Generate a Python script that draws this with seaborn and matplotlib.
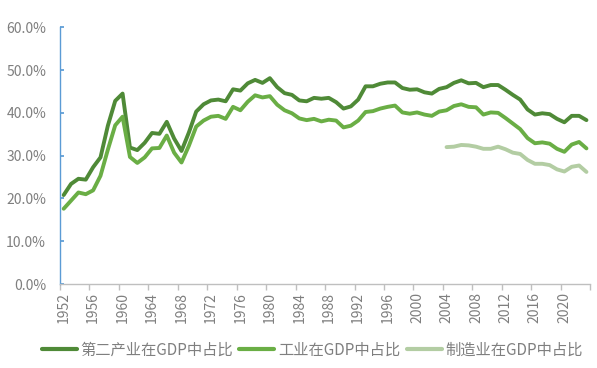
"""
中国第二产业 / 工业 / 制造业在GDP中占比 折线图
"""

import numpy as np
import pandas as pd
import matplotlib
matplotlib.use("Agg")
import matplotlib.pyplot as plt
import seaborn as sns
from matplotlib.ticker import FuncFormatter, FixedLocator

years = list(range(1952, 2024))

# 第二产业在GDP中占比 (%)
secondary = [20.8, 23.4, 24.6, 24.4, 27.3, 29.6, 37.0, 42.8, 44.5, 31.9,
             31.3, 33.0, 35.3, 35.1, 37.9, 34.0, 31.1, 35.4, 40.3, 42.0,
             42.9, 43.1, 42.7, 45.5, 45.2, 46.9, 47.7, 47.0, 48.1, 46.0,
             44.6, 44.2, 42.9, 42.7, 43.5, 43.3, 43.5, 42.5, 41.0, 41.5,
             43.1, 46.2, 46.2, 46.8, 47.1, 47.1, 45.8, 45.4, 45.5, 44.8,
             44.5, 45.6, 46.0, 47.0, 47.6, 46.9, 47.0, 46.0, 46.5, 46.5,
             45.4, 44.2, 43.1, 40.8, 39.6, 39.9, 39.7, 38.6, 37.8, 39.3,
             39.3, 38.3]

# 工业在GDP中占比 (%)
industry = [17.6, 19.5, 21.4, 21.0, 21.9, 25.3, 31.4, 37.1, 39.1, 29.7,
            28.3, 29.6, 31.7, 31.8, 34.7, 30.7, 28.4, 32.3, 36.8, 38.2,
            39.1, 39.3, 38.6, 41.4, 40.6, 42.6, 44.1, 43.6, 43.9, 41.9,
            40.6, 39.9, 38.7, 38.3, 38.6, 38.0, 38.4, 38.2, 36.6, 37.0,
            38.2, 40.2, 40.4, 41.0, 41.4, 41.7, 40.1, 39.8, 40.1, 39.6,
            39.3, 40.3, 40.6, 41.6, 42.0, 41.4, 41.3, 39.6, 40.1, 40.0,
            38.8, 37.5, 36.2, 34.1, 32.9, 33.1, 32.8, 31.6, 30.9, 32.6,
            33.2, 31.7]

# 制造业在GDP中占比 (%), 2004年起
manufacturing = [np.nan] * 52 + [
    32.0, 32.1, 32.5, 32.4, 32.1, 31.6, 31.6, 32.1, 31.5, 30.7,
    30.4, 29.0, 28.1, 28.1, 27.8, 26.8, 26.3, 27.4, 27.7, 26.2]

labels = ["第二产业在GDP中占比", "工业在GDP中占比", "制造业在GDP中占比"]
colors = ["#4F8A37", "#6AAE45", "#B3CDA3"]

df = pd.DataFrame({"年份": years, labels[0]: secondary,
                   labels[1]: industry, labels[2]: manufacturing})
long_df = df.melt(id_vars="年份", var_name="指标", value_name="占比").dropna()
long_df["占比"] = long_df["占比"] / 100

sns.set_theme(style="white")
plt.rcParams["font.family"] = ["Noto Sans CJK SC", "DejaVu Sans"]

fig = plt.figure(figsize=(5.97, 3.68), dpi=100)
ax = fig.add_axes([0.1005, 0.228, 0.888, 0.698])

sns.lineplot(data=long_df, x="年份", y="占比", hue="指标",
             hue_order=labels, palette=colors, linewidth=2.8,
             ax=ax, legend=False)

ax.set_xlim(1951.5, 2023.5)
ax.set_ylim(0, 0.6)
ax.set_yticks(np.arange(0, 0.61, 0.1))
ax.yaxis.set_major_formatter(FuncFormatter(lambda v, _: f"{v * 100:.1f}%"))

ax.xaxis.set_major_locator(FixedLocator(list(range(1952, 2021, 4))))
ax.set_xticklabels([str(y) for y in range(1952, 2021, 4)], rotation=90)
ax.xaxis.set_minor_locator(FixedLocator(list(np.arange(1951.5, 2024, 4))))
ax.tick_params(axis="x", which="major", length=0, pad=6,
               labelsize=10, labelcolor="#7F7F7F")
ax.tick_params(axis="x", which="minor", length=4, color="#BFBFBF",
               direction="out", bottom=True)
ax.tick_params(axis="y", length=3, color="#5B9BD5", direction="in",
               left=True, labelsize=10, labelcolor="#7F7F7F", pad=10)

ax.set_xlabel("")
ax.set_ylabel("")
sns.despine(ax=ax)
ax.spines["left"].set_color("#5B9BD5")
ax.spines["left"].set_linewidth(1)
ax.spines["bottom"].set_color("#BFBFBF")
ax.spines["bottom"].set_linewidth(1)

handles = [plt.Line2D([], [], color=c, linewidth=3) for c in colors]
fig.legend(handles, labels, loc="center", bbox_to_anchor=(0.523, 0.048),
           ncol=3, frameon=False, fontsize=11, handlelength=2.3,
           handletextpad=0.25, columnspacing=0.4, labelcolor="#7F7F7F")

fig.savefig("out.png", dpi=100)
plt.close(fig)
